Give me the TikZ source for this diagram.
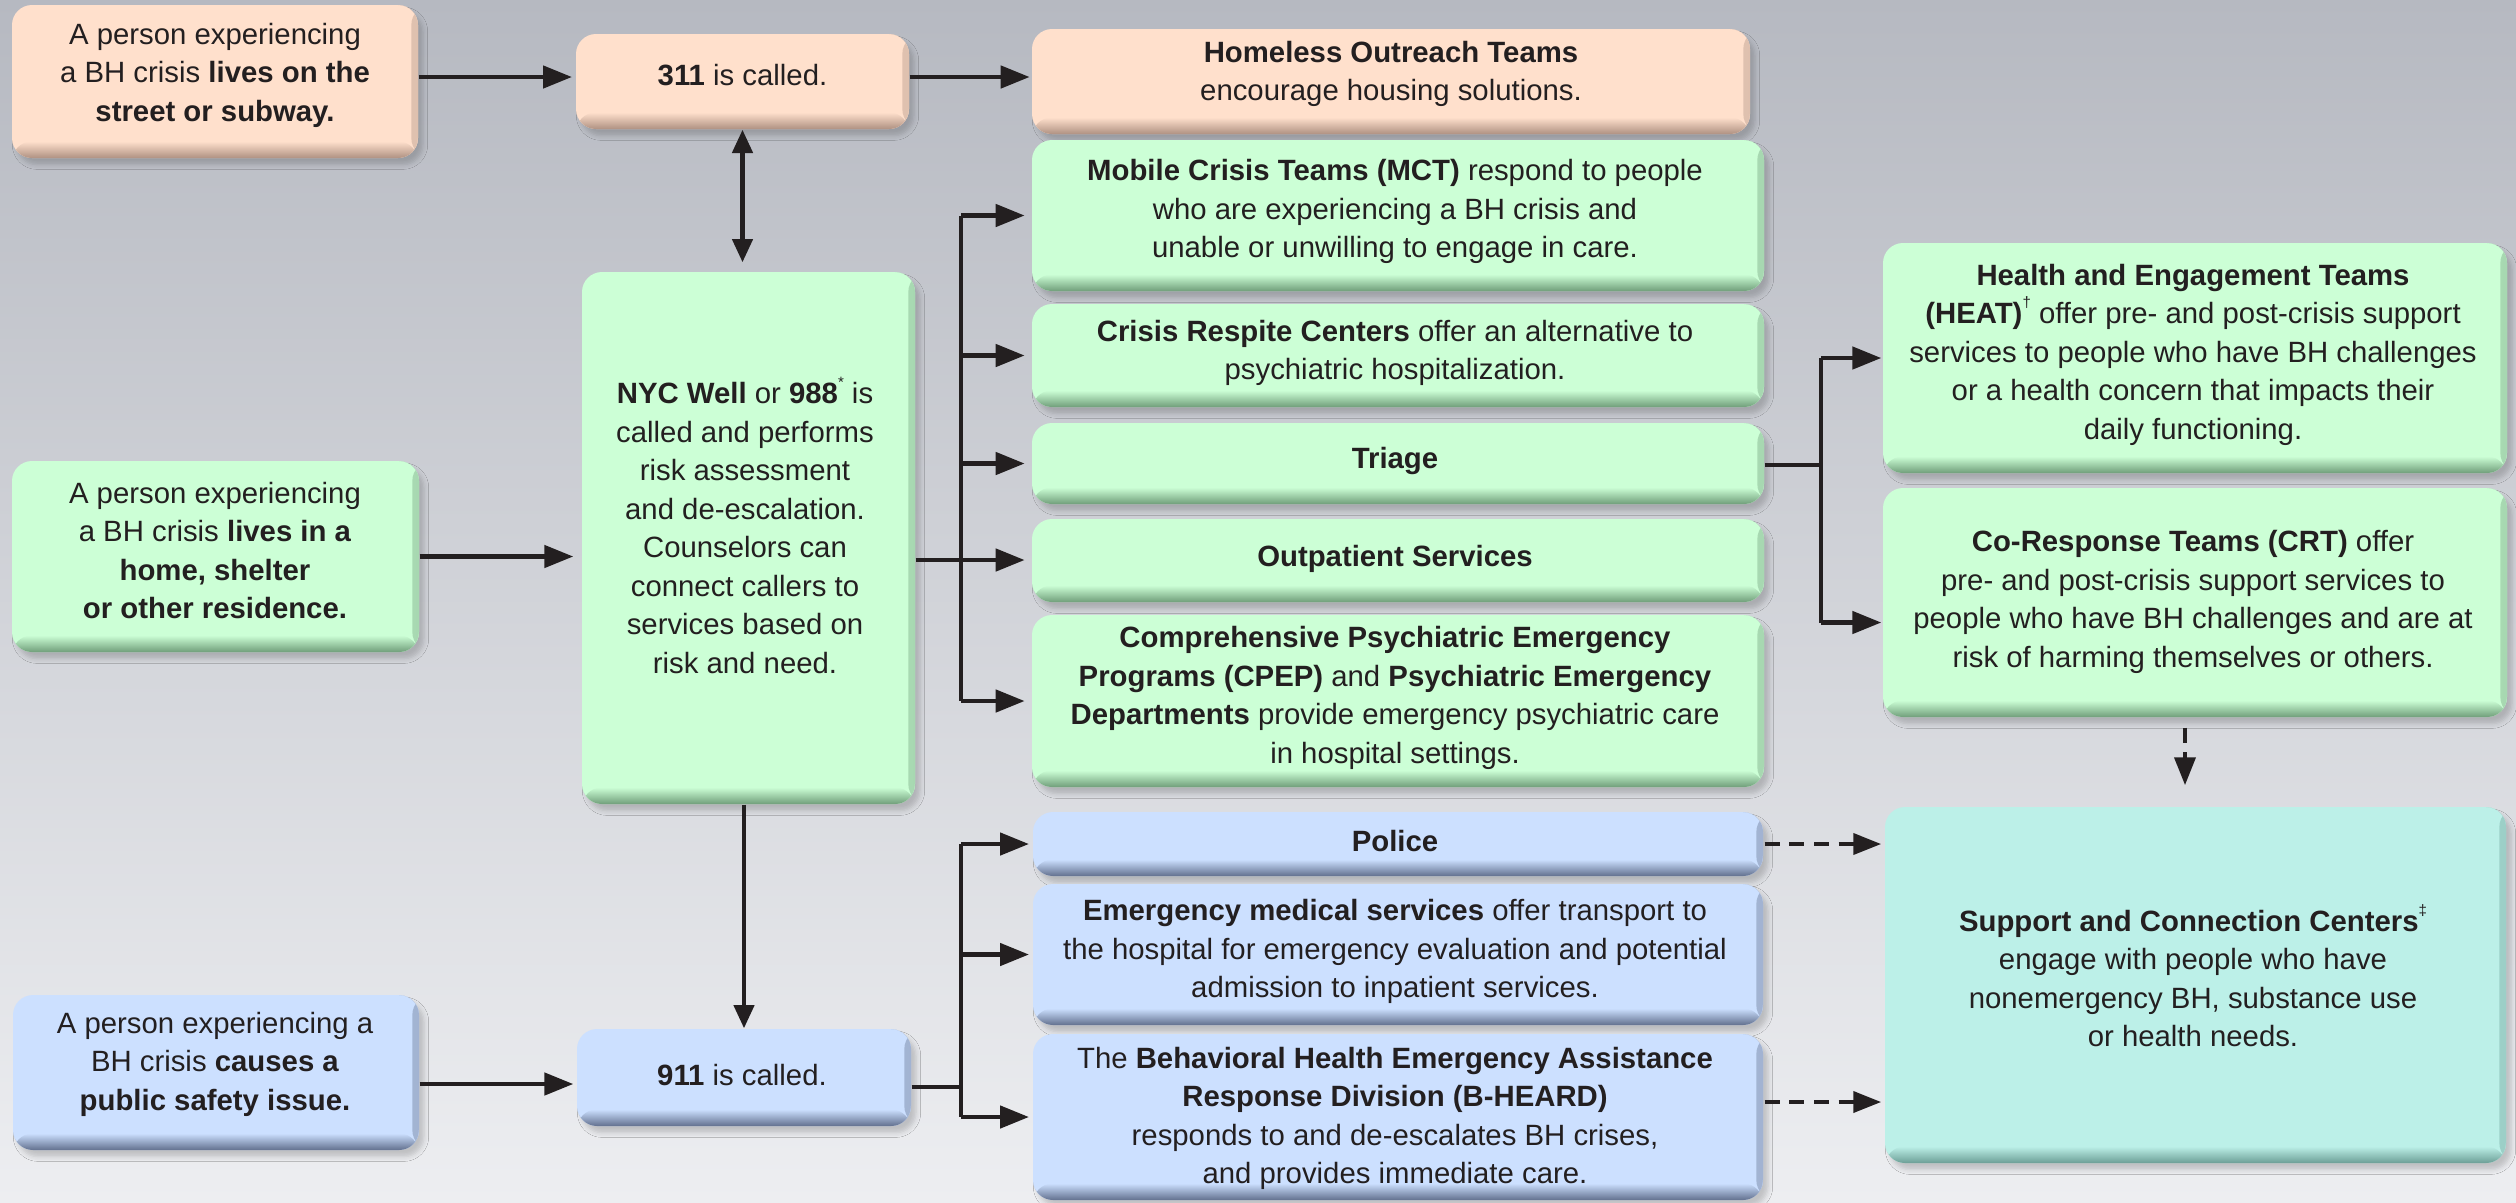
\documentclass[tikz,border=0pt]{standalone}
\usepackage{fontspec}
\setmainfont{Liberation Sans}
\usetikzlibrary{arrows.meta,shadows.blur}
\definecolor{ink}{RGB}{35,31,32}
\definecolor{peach}{RGB}{255,224,204}
\definecolor{peachD}{RGB}{175,145,130}
\definecolor{mint}{RGB}{204,255,214}
\definecolor{mintD}{RGB}{112,158,122}
\definecolor{sky}{RGB}{204,224,255}
\definecolor{skyD}{RGB}{98,112,142}
\definecolor{aqua}{RGB}{188,240,232}
\definecolor{aquaD}{RGB}{108,158,150}
\definecolor{bgtop}{RGB}{182,185,193}
\definecolor{bgbot}{RGB}{237,238,241}
\newcommand{\tinysup}[1]{\raisebox{0.55em}{\fontsize{4.5}{4.5}\selectfont #1}}
\tikzset{
  panel/.style 2 args={rounded corners=6pt, fill=#1, draw=none, inner sep=0pt,
    blur shadow={shadow xshift=1.5pt, shadow yshift=-2pt, shadow blur radius=1.4pt, shadow opacity=18},
    path picture={
      \shade[left color=#1, right color=#2!40!#1] ([xshift=-2pt]path picture bounding box.north east) rectangle (path picture bounding box.south east);
      \shade[top color=#1, bottom color=#2] ([yshift=5pt]path picture bounding box.south west) rectangle (path picture bounding box.south east);
    }},
  txt/.style={font=\fontsize{8.8}{11.55}\selectfont, align=center, text=ink, inner sep=0pt},
  conn/.style={draw=ink, line width=1.4pt},
  arr/.style={conn, -{Triangle[length=8.7pt,width=6.6pt]}},
  varr/.style={conn, -{Triangle[length=7pt,width=6pt]}},
  darr/.style={conn, {Triangle[length=7pt,width=6pt]}-{Triangle[length=7pt,width=6pt]}},
  dasharr/.style={conn, dash pattern=on 4.5pt off 2.9pt, -{Triangle[length=8.4pt,width=6.2pt]}},
}
\begin{document}
\begin{tikzpicture}[x=0.3pt, y=-0.3pt]
\useasboundingbox (0,0) rectangle (2516,1202);
\shade[top color=bgtop, bottom color=bgbot] (0,0) rectangle (2516,1202);

% ---------- boxes ----------
\node[panel={peach}{peachD}, minimum width=121.8pt, minimum height=45.9pt] (street) at (215,81.5) {};
\node[panel={peach}{peachD}, minimum width=99.9pt, minimum height=28.5pt] (c311) at (742.5,81.5) {};
\node[panel={peach}{peachD}, minimum width=215.4pt, minimum height=31.5pt] (homeless) at (1391,81.5) {};
\node[panel={mint}{mintD}, minimum width=219.6pt, minimum height=45.3pt] (mct) at (1398,215.5) {};
\node[panel={mint}{mintD}, minimum width=219.6pt, minimum height=30.9pt] (respite) at (1398,355.5) {};
\node[panel={mint}{mintD}, minimum width=219.6pt, minimum height=24.3pt] (triage) at (1398,463.5) {};
\node[panel={mint}{mintD}, minimum width=219.6pt, minimum height=24.9pt] (outpat) at (1398,560.5) {};
\node[panel={mint}{mintD}, minimum width=219.6pt, minimum height=51.6pt] (cpep) at (1398,701) {};
\node[panel={mint}{mintD}, minimum width=99.9pt, minimum height=159.6pt] (nyc) at (748.5,538) {};
\node[panel={mint}{mintD}, minimum width=122.1pt, minimum height=57.3pt] (home) at (215.5,556.5) {};
\node[panel={sky}{skyD}, minimum width=121.8pt, minimum height=46.5pt] (public) at (216,1072.5) {};
\node[panel={sky}{skyD}, minimum width=100.2pt, minimum height=29.1pt] (c911) at (744,1077.5) {};
\node[panel={sky}{skyD}, minimum width=219pt, minimum height=19.2pt] (police) at (1398,844) {};
\node[panel={sky}{skyD}, minimum width=219pt, minimum height=42.3pt] (ems) at (1398,954.5) {};
\node[panel={sky}{skyD}, minimum width=219pt, minimum height=49.8pt] (bheard) at (1398,1117) {};
\node[panel={mint}{mintD}, minimum width=187.2pt, minimum height=69pt] (heat) at (2195,358) {};
\node[panel={mint}{mintD}, minimum width=187.2pt, minimum height=68.7pt] (crt) at (2195,602.5) {};
\node[panel={aqua}{aquaD}, minimum width=186.3pt, minimum height=106.8pt] (support) at (2195.5,985) {};

% ---------- texts ----------
\node[txt] (street-t) at (215,75.4) {A person experiencing\\a BH crisis \textbf{lives on the}\\\textbf{street or subway.}};
\node[txt] (c311-t) at (742.5,75.4) {\textbf{311} is called.};
\node[txt] (homeless-t) at (1391,73.8) {\textbf{Homeless Outreach Teams}\\encourage housing solutions.};
\node[txt] (mct-t) at (1395,211.8) {\textbf{Mobile Crisis Teams (MCT)} respond to people\\who are experiencing a BH crisis and\\unable or unwilling to engage in care.};
\node[txt] (respite-t) at (1395,353) {\textbf{Crisis Respite Centers} offer an alternative to\\psychiatric hospitalization.};
\node[txt] (triage-t) at (1395,460.5) {\textbf{Triage}};
\node[txt] (outpat-t) at (1395,558.4) {\textbf{Outpatient Services}};
\node[txt] (cpep-t) at (1395,698) {\textbf{Comprehensive Psychiatric Emergency}\\\textbf{Programs (CPEP)} and \textbf{Psychiatric Emergency}\\\textbf{Departments} provide emergency psychiatric care\\in hospital settings.};
\node[txt] (nyc-t) at (745,525.5) {\textbf{NYC Well} or \textbf{988}\tinysup{*} is\\called and performs\\risk assessment\\and de-escalation.\\Counselors can\\connect callers to\\services based on\\risk and need.};
\node[txt] (home-t) at (215,550.4) {A person experiencing\\a BH crisis \textbf{lives in a}\\\textbf{home, shelter}\\\textbf{or other residence.}};
\node[txt] (public-t) at (215,1063.9) {A person experiencing a\\BH crisis \textbf{causes a}\\\textbf{public safety issue.}};
\node[txt] (c911-t) at (742,1075) {\textbf{911} is called.};
\node[txt] (police-t) at (1395,840.8) {\textbf{Police}};
\node[txt] (ems-t) at (1395,951.5) {\textbf{Emergency medical services} offer transport to\\the hospital for emergency evaluation and potential\\admission to inpatient services.};
\node[txt] (bheard-t) at (1395,1118.4) {The \textbf{Behavioral Health Emergency Assistance}\\\textbf{Response Division (B-HEARD)}\\responds to and de-escalates BH crises,\\and provides immediate care.};
\node[txt] (heat-t) at (2193,354.6) {\textbf{Health and Engagement Teams}\\\textbf{(HEAT)}\tinysup{†} offer pre- and post-crisis support\\services to people who have BH challenges\\or a health concern that impacts their\\daily functioning.};
\node[txt] (crt-t) at (2193,601.7) {\textbf{Co-Response Teams (CRT)} offer\\pre- and post-crisis support services to\\people who have BH challenges and are at\\risk of harming themselves or others.};
\node[txt] (support-t) at (2193,975.6) {\textbf{Support and Connection Centers}\tinysup{‡}\\engage with people who have\\nonemergency BH, substance use\\or health needs.};

% ---------- junctions ----------
\coordinate (j1) at (961,560);
\coordinate (j2) at (961,1087);
\coordinate (j3) at (1821,465);

% ---------- connectors ----------
\draw[arr, shorten >=1pt] ([yshift=1.35pt]street.east) -- ([yshift=1.35pt]c311.west);
\draw[arr, shorten >=0.5pt] ([yshift=1.35pt]c311.east) -- ([yshift=1.35pt]c311.east -| homeless.west);
\draw[darr, shorten >=2.7pt] (c311.south) -- (c311.south |- nyc.north);
\draw[arr, shorten >=2.4pt] (home.east) -- (home.east -| nyc.west);
\draw[varr] (c911.north |- nyc.south) -- (c911.north);
\draw[arr, shorten >=0.9pt] ([yshift=-3.45pt]public.east) -- ([yshift=-3.45pt]public.east -| c911.west);

% NYC Well branch
\draw[conn] (nyc.east |- j1) -- (j1);
\draw[conn] (j1 |- mct.west) -- (j1 |- cpep.west);
\draw[arr, shorten >=2pt] (j1 |- mct.west) -- (mct.west);
\draw[arr, shorten >=2pt] (j1 |- respite.west) -- (respite.west);
\draw[arr, shorten >=2pt] (j1 |- triage.west) -- (triage.west);
\draw[arr, shorten >=2pt] (j1) -- (j1 -| outpat.west);
\draw[arr, shorten >=2pt] (j1 |- cpep.west) -- (cpep.west);

% 911 branch
\draw[conn] (c911.east |- j2) -- (j2);
\draw[conn] (j2 |- police.west) -- (j2 |- bheard.west);
\draw[arr, shorten >=1pt] (j2 |- police.west) -- (police.west);
\draw[arr, shorten >=1pt] (j2 |- ems.west) -- (ems.west);
\draw[arr, shorten >=1pt] (j2 |- bheard.west) -- (bheard.west);

% Triage branch
\draw[conn] (triage.east |- j3) -- (j3);
\draw[conn] (j3 |- heat.west) -- ([yshift=-6pt]j3 |- crt.west);
\draw[arr, shorten >=0.3pt] (j3 |- heat.west) -- (heat.west);
\draw[arr, shorten >=0.3pt] ([yshift=-6pt]j3 |- crt.west) -- ([yshift=-6pt]crt.west);

% dashed connectors to Support and Connection Centers
\draw[dasharr, shorten <=3pt, shorten >=6.3pt] ([xshift=-3pt]crt.south) -- ([xshift=-3pt]crt.south |- support.north);
\draw[dasharr, shorten <=0.3pt, shorten >=0.9pt] (police.east) -- (police.east -| support.west);
\draw[dasharr, shorten <=0.3pt, shorten >=0.9pt] ([yshift=4.5pt]bheard.east) -- ([yshift=4.5pt]bheard.east -| support.west);
\end{tikzpicture}
\end{document}
